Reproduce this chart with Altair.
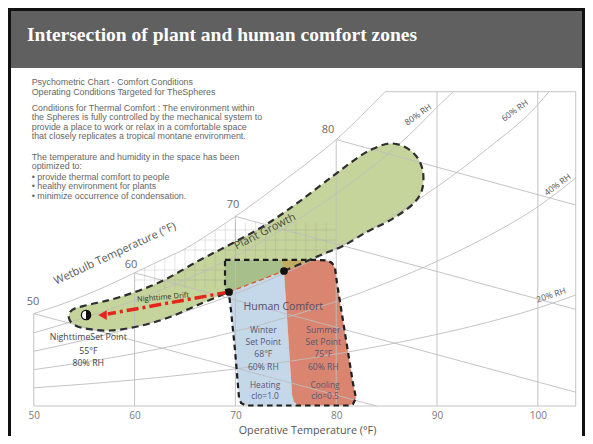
import altair as alt
import pandas as pd

# ---------------- values ----------------
HEADER_TITLE = "Intersection of plant and human comfort zones"

NOTE_LINES = [
    "Psychometric Chart  -  Comfort Conditions",
    "Operating Conditions Targeted for TheSpheres",
    "Conditions for Thermal Comfort : The environment within",
    "the Spheres is fully controlled by the mechanical system to",
    "provide a place to work or relax in a comfortable space",
    "that closely replicates a tropical montane environment.",
    "The temperature and humidity in the space has been",
    "optimized to:",
    "\u2022 provide thermal comfort to people",
    "\u2022 healthy environment for plants",
    "\u2022 minimize occurrence of condensation.",
]
NOTE_Y = [74.3, 84, 100.3, 109.3, 118.5, 127.5, 149, 157.5, 169, 178.3, 188]

X_TICKS = [50, 60, 70, 80, 90, 100]

# dry bulb (F) / humidity ratio (g/kg) of chart lines
SAT_T = [50, 52.5, 55, 57.5, 60, 62.5, 65, 67.5, 70, 72.5, 75, 77.5, 80, 82.5, 84.84]
SAT_W = [7.7, 8.4, 9.2, 10.1, 11.1, 12.1, 13.1, 14.4, 15.8, 17.3, 18.9, 20.5, 22.2, 24.2, 26.19]
RH80_T = [50, 55, 60, 65, 70, 75, 80, 85, 88, 90, 91.6]
RH80_W = [6.1, 7.35, 8.8, 10.5, 12.5, 14.9, 17.7, 20.9, 23.2, 24.9, 26.19]
RH60_T = [50, 55, 60, 65, 70, 75, 80, 85, 90, 95, 100, 101.1]
RH60_W = [4.56, 5.49, 6.58, 7.86, 9.36, 11.11, 13.16, 15.52, 18.27, 21.44, 25.11, 26.19]
RH40_T = [50, 55, 60, 65, 70, 75, 80, 85, 90, 95, 100, 103.76]
RH40_W = [3.03, 3.65, 4.37, 5.22, 6.21, 7.37, 8.71, 10.26, 12.06, 14.13, 16.6, 19.0]
RH20_T = [50, 55, 60, 65, 70, 75, 80, 85, 90, 95, 100, 103.76]
RH20_W = [1.51, 1.82, 2.18, 2.61, 3.09, 3.68, 4.33, 5.1, 5.97, 6.97, 8.16, 9.25]

# straight segments: frame, dry-bulb lines, wet-bulb lines
SEG_T1 = [50, 50, 84.84, 103.76, 60, 70, 80, 90, 100, 50, 60, 70, 80]
SEG_W1 = [0, 0, 26.19, 0, 0, 0, 0, 0, 0, 7.7, 11.1, 15.8, 22.2]
SEG_T2 = [103.76, 50, 103.76, 103.76, 60, 70, 80, 90, 100, 84.0, 103.76, 103.76, 103.76]
SEG_W2 = [0, 7.7, 26.19, 26.19, 11.1, 15.8, 22.2, 26.19, 26.19, 0, 1.15, 8.05, 16.75]

# fine grid near saturation (1 F dry-bulb steps and humidity steps)
FINE_V_T = [61, 62, 63, 64, 65, 66, 67, 68, 69, 70, 71, 72, 73, 74, 75, 76, 77, 78, 79]
FINE_V_W1 = [9.8, 9.8, 9.8, 9.8, 9.8, 9.8, 9.8, 9.8, 12.17, 12.17, 12.17, 12.17, 12.17,
             12.17, 12.17, 12.17, 12.17, 12.17, 12.17]
FINE_V_W2 = [11.5, 11.9, 12.3, 12.7, 13.1, 13.6, 14.1, 14.6, 15.2, 15.3, 15.3, 15.3, 15.3,
             15.3, 15.3, 15.3, 15.3, 15.3, 15.3]
FINE_H_W = [10.5, 11.33, 13.0, 13.83, 14.67]
FINE_H_T1 = [60.0, 60.6, 64.8, 66.4, 68.0]
FINE_H_T2 = [69.0, 69.0, 80.0, 80.0, 80.0]

# plant growth zone outline (from right dot, round the zone, to left dot)
PLANT_T = [74.82, 76.90, 78.69, 80.67, 83.03, 84.84, 86.33, 87.72, 88.51, 88.61, 88.01, 86.82,
           85.34, 83.85, 82.37, 79.68, 76.41, 73.14, 69.76, 66.49, 62.52, 58.56, 55.58, 54.19,
           53.59, 53.49, 53.89, 55.08, 57.56, 60.54, 63.51, 66.49, 69.37]
PLANT_W = [11.25, 12.0, 12.67, 13.33, 14.5, 15.25, 16.0, 16.92, 18.0, 19.5, 20.75, 21.58,
           21.88, 21.5, 20.83, 19.17, 17.08, 15.17, 13.58, 12.17, 10.33, 9.08, 8.46, 8.17,
           7.83, 7.33, 6.83, 6.46, 6.29, 6.67, 7.42, 8.5, 9.5]

# human comfort zone outline
HUMAN_T = [68.97, 78.19, 79.09, 79.58, 79.88, 80.08, 80.87, 81.66, 81.96, 81.67, 81.17,
           71.05, 70.56, 70.36, 69.96, 69.56, 69.36, 69.07, 68.97]
HUMAN_W = [12.17, 12.17, 12.13, 11.92, 11.5, 10.25, 6.08, 1.92, 0.67, 0.17, 0.04,
           0.04, 0.25, 0.67, 4.67, 8.0, 9.33, 9.67, 9.83]
OVER_T = [68.97, 74.57, 74.82, 69.37, 68.97]
OVER_W = [12.17, 12.17, 11.25, 9.5, 9.83]
OLIVE_T = [74.57, 77.6, 74.82]
OLIVE_W = [12.17, 12.17, 11.25]
BLUE_T = [69.37, 74.82, 75.62, 75.81, 76.01, 71.05, 70.56, 70.36, 69.96, 69.56, 69.36]
BLUE_W = [9.5, 11.25, 0.92, 0.33, 0.04, 0.04, 0.25, 0.67, 4.67, 8.0, 9.33]
RED_T = [74.82, 77.6, 78.19, 79.09, 79.58, 79.88, 80.08, 80.87, 81.66, 81.96, 81.67, 81.17,
         76.21, 75.81, 75.62]
RED_W = [11.25, 12.17, 12.17, 12.13, 11.92, 11.5, 10.25, 6.08, 1.92, 0.67, 0.17, 0.04,
         0.04, 0.33, 0.92]

# set points and drift
DOT_T = [69.37, 74.82]
DOT_W = [9.5, 11.25]
NIGHT_T = [55.18]
NIGHT_W = [7.58]
DRIFT_T = [69.37, 57.36]
DRIFT_W = [9.5, 7.67]
ARROW_T = [56.82]
ARROW_W = [7.58]
DAYLINE_T = [69.37, 74.82]
DAYLINE_W = [9.5, 11.25]

# labels: text, T, W, angle, font size, colour
LAB_TEXT = ["50", "60", "70", "80", "Wetbulb Temperature (\u00b0F)", "Plant Growth",
            "Nighttime Drift", "NighttimeSet Point", "55\u00b0F", "80% RH", "Human Comfort",
            "Winter", "Set Point", "68\u00b0F", "60% RH", "Heating", "clo=1.0",
            "Summer", "Set Point", "75\u00b0F", "60% RH", "Cooling", "clo=0.5",
            "80% RH", "60% RH", "40% RH", "20% RH"]
LAB_T = [49.92, 59.64, 69.76, 79.19, 58.06, 72.94, 62.83, 55.41, 55.41, 55.41, 74.75,
         72.77, 72.77, 72.77, 72.77, 72.94, 72.94,
         78.72, 78.72, 78.72, 78.72, 78.89, 78.89,
         88.11, 97.71, 101.95, 101.31]
LAB_W = [8.67, 11.75, 16.75, 23.0, 12.67, 14.52, 9.04, 5.73, 4.61, 3.56, 8.28,
         6.33, 5.36, 4.31, 3.28, 1.75, 0.86,
         6.33, 5.36, 4.31, 3.28, 1.75, 0.86,
         24.29, 24.63, 18.46, 9.25]
LAB_ANGLE = [0, 0, 0, 0, 335, 333, 355, 0, 0, 0, 0,
             0, 0, 0, 0, 0, 0, 0, 0, 0, 0, 0, 0,
             325, 324, 323.5, 341.6]
LAB_SIZE = [11, 11, 11, 11, 11, 11, 7.5, 8.8, 8.8, 8.8, 10.5,
            8.6, 8.6, 8.6, 8.6, 8.4, 8.4, 8.6, 8.6, 8.6, 8.6, 8.4, 8.4,
            8.5, 8.5, 8.5, 8.5]
LAB_COLOR = ["#6a6a6a"] * 4 + ["#555555", "#4a4a4a", "#333333", "#444444", "#444444", "#444444",
             "#55506a"] + ["#5a5570"] * 12 + ["#555555"] * 4

# ---------------- styling ----------------
GREEN = "#c5d49a"
DARK_GREEN = "#a6bf8b"
OLIVE = "#c0ab63"
BLUE = "#c4d8ea"
RED = "#d9856f"
GRID = "#bdbdbd"
EDGE = "#2e2e2e"
ARROW = "#e3261c"
FONT = "Open Sans"

W_PX, H_PX = 577, 398
XS = alt.Scale(domain=[47.443, 104.68], nice=False, zero=False)
YS = alt.Scale(domain=[0, 33.1667], nice=False, zero=False)
X_AXIS = alt.Axis(values=X_TICKS, grid=False, ticks=False, domain=False, labelColor="#7a7a7a",
                  labelFont=FONT, labelFontSize=10, labelPadding=4,
                  title="Operative Temperature (\u00b0F)", titleFont=FONT, titleFontSize=10.8,
                  titleFontWeight="normal", titleColor="#555555", titleX=299, titleY=24,
                  titleBaseline="middle", titleAlign="center")


def X(field="T"):
    return alt.X(f"{field}:Q", scale=XS, axis=X_AXIS)


def Y(field="W"):
    return alt.Y(f"{field}:Q", scale=YS, axis=None)


def poly(ts, ws):
    return pd.DataFrame({"T": ts, "W": ws, "i": list(range(len(ts)))})


one = pd.DataFrame({"k": [0]})

header = alt.Chart(one).mark_rect(color="#606060").encode(
    x=alt.value(0), x2=alt.value(W_PX), y=alt.value(0), y2=alt.value(60))
frame_l = alt.Chart(one).mark_rect(color="#111111").encode(
    x=alt.value(0), x2=alt.value(3), y=alt.value(0), y2=alt.value(428))
frame_r = alt.Chart(one).mark_rect(color="#111111").encode(
    x=alt.value(W_PX - 3), x2=alt.value(W_PX), y=alt.value(0), y2=alt.value(428))
frame_t = alt.Chart(one).mark_rect(color="#111111").encode(
    x=alt.value(0), x2=alt.value(W_PX), y=alt.value(0), y2=alt.value(3))
header_text = alt.Chart(one).mark_text(
    text=HEADER_TITLE, align="left", baseline="alphabetic", font="Liberation Serif",
    fontWeight="bold", fontSize=19.5, color="white").encode(x=alt.value(19), y=alt.value(33))

notes = alt.Chart(pd.DataFrame({"line": NOTE_LINES, "py": NOTE_Y})).mark_text(
    align="left", baseline="middle", font="Liberation Sans", fontSize=8.9, color="#666666"
).encode(x=alt.value(23.7), y=alt.Y("py:Q", scale=None), text="line:N")


def fill_layer(ts, ws, color, interp="linear-closed"):
    return alt.Chart(poly(ts, ws)).mark_line(
        interpolate=interp, fill=color, strokeOpacity=0, strokeWidth=0
    ).encode(x=X(), y=Y(), order="i:Q")


plant_fill = fill_layer(PLANT_T, PLANT_W, GREEN, "cardinal-closed")
blue_fill = fill_layer(BLUE_T, BLUE_W, BLUE)
red_fill = fill_layer(RED_T, RED_W, RED)
over_fill = fill_layer(OVER_T, OVER_W, DARK_GREEN)
olive_fill = fill_layer(OLIVE_T, OLIVE_W, OLIVE)

segs = alt.Chart(pd.DataFrame({"T": SEG_T1, "W": SEG_W1, "T2": SEG_T2, "W2": SEG_W2})).mark_rule(
    color=GRID, strokeWidth=0.9).encode(x=X(), y=Y(), x2="T2:Q", y2="W2:Q")

fine_v = alt.Chart(pd.DataFrame({"T": FINE_V_T, "W": FINE_V_W1, "W2": FINE_V_W2})).mark_rule(
    color="#9a9a9a", strokeWidth=0.6, opacity=0.45).encode(x=X(), y=Y(), y2="W2:Q")
fine_h = alt.Chart(pd.DataFrame({"T": FINE_H_T1, "T2": FINE_H_T2, "W": FINE_H_W})).mark_rule(
    color="#9a9a9a", strokeWidth=0.6, opacity=0.45).encode(x=X(), x2="T2:Q", y=Y())

curve_rows = []
for name, ts, ws in [("sat", SAT_T, SAT_W), ("rh80", RH80_T, RH80_W), ("rh60", RH60_T, RH60_W),
                     ("rh40", RH40_T, RH40_W), ("rh20", RH20_T, RH20_W)]:
    for i, (t, w) in enumerate(zip(ts, ws)):
        curve_rows.append({"c": name, "T": t, "W": w, "i": i})
curves = alt.Chart(pd.DataFrame(curve_rows)).mark_line(
    color=GRID, strokeWidth=0.9, interpolate="monotone").encode(
    x=X(), y=Y(), detail="c:N", order="i:Q")

plant_edge = alt.Chart(poly(PLANT_T, PLANT_W)).mark_line(
    interpolate="cardinal", color=EDGE, strokeWidth=2.2, strokeDash=[7, 4.5]
).encode(x=X(), y=Y(), order="i:Q")
human_edge = alt.Chart(poly(HUMAN_T, HUMAN_W)).mark_line(
    interpolate="linear-closed", color="#1e1e1e", strokeWidth=2.2, strokeDash=[5.5, 4]
).encode(x=X(), y=Y(), order="i:Q")

day_line = alt.Chart(poly(DAYLINE_T, DAYLINE_W)).mark_line(
    color="#e2582c", strokeWidth=1.3, strokeDash=[5, 3]).encode(x=X(), y=Y(), order="i:Q")
drift = alt.Chart(poly(DRIFT_T, DRIFT_W)).mark_line(
    color=ARROW, strokeWidth=3.5, strokeDash=[12, 4, 3, 4]).encode(x=X(), y=Y(), order="i:Q")
arrow = alt.Chart(pd.DataFrame({"T": ARROW_T, "W": ARROW_W})).mark_point(
    shape="triangle-left", filled=True, size=95, color=ARROW, opacity=1).encode(x=X(), y=Y())
dots = alt.Chart(pd.DataFrame({"T": DOT_T, "W": DOT_W})).mark_point(
    shape="circle", filled=True, size=60, color="#111111", opacity=1).encode(x=X(), y=Y())
night = alt.Chart(pd.DataFrame({"T": NIGHT_T, "W": NIGHT_W})).mark_point(
    shape="circle", filled=True, size=85, fill="white", stroke="#111111", strokeWidth=1.3,
    opacity=1).encode(x=X(), y=Y())
night_half = alt.Chart(pd.DataFrame({"T": NIGHT_T, "W": NIGHT_W})).mark_arc(
    radius=5.2, theta=0, theta2=3.14159, color="#111111").encode(x=X(), y=Y())

labels = alt.Chart(pd.DataFrame({
    "txt": LAB_TEXT, "T": LAB_T, "W": LAB_W, "ang": LAB_ANGLE, "fs": LAB_SIZE, "col": LAB_COLOR
})).mark_text(font=FONT, align="center", baseline="middle").encode(
    x=X(), y=Y(), text="txt:N", angle=alt.Angle("ang:Q", scale=None),
    size=alt.Size("fs:Q", scale=None), color=alt.Color("col:N", scale=None))

chart = alt.layer(
    header, frame_l, frame_r, frame_t, header_text, notes,
    plant_fill, over_fill, olive_fill, blue_fill, red_fill,
    segs, fine_v, fine_h, curves, plant_edge, human_edge, day_line, drift, arrow, dots,
    night, night_half, labels,
).properties(width=W_PX, height=H_PX, padding=0, background="white").configure_view(stroke=None)

chart.save("out.html", embed_options={"renderer": "svg", "actions": False})
